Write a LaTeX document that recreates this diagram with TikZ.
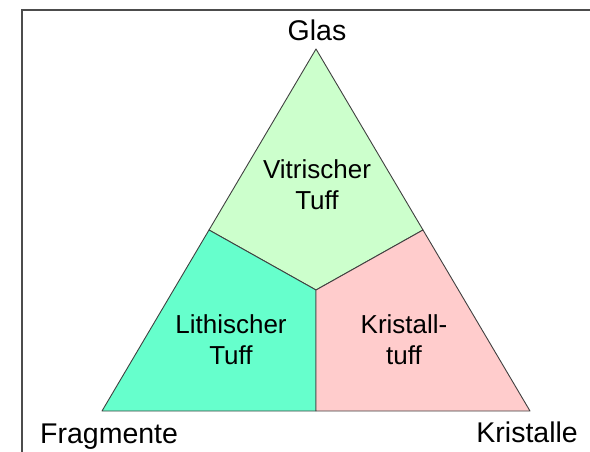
\documentclass[tikz,border=0pt]{standalone}
\usepackage{fontspec}
\setmainfont{Liberation Sans}
\usetikzlibrary{calc}
\begin{document}
\begin{tikzpicture}[x=1pt,y=-1pt,
  region/.style={draw=black!75,line width=0.9pt,line join=round},
  lbl/.style={inner sep=0pt,align=center,anchor=base,font=\fontsize{26}{31}\selectfont},
  corner/.style={inner sep=0pt,font=\fontsize{28.5}{34}\selectfont}]
\useasboundingbox (0,0) rectangle (590,452);
% frame
\draw[black!70,line width=1.3pt] (22,452) -- (22,10) -- (590,10);
% corners of the ternary diagram and subdivision points
\coordinate (G) at (316,49);
\coordinate (F) at (102,411);
\coordinate (K) at (530,411);
\coordinate (C) at (316,290);
\coordinate (GF) at ($(G)!0.5!(F)$);
\coordinate (GK) at ($(G)!0.5!(K)$);
\coordinate (FK) at ($(F)!0.5!(K)$);
% fields
\filldraw[region,fill={rgb,255:red,204;green,255;blue,204}] (G) -- (GK) -- (C) -- (GF) -- cycle;
\filldraw[region,fill={rgb,255:red,102;green,255;blue,204}] (GF) -- (C) -- (FK) -- (F) -- cycle;
\filldraw[region,fill={rgb,255:red,255;green,204;blue,204}] (GK) -- (K) -- (FK) -- (C) -- cycle;
% field labels (anchored at the baseline of the last line)
\node[lbl] (vt) at (317,209) {Vitrischer\\Tuff};
\node[lbl] (lt) at (231,364) {Lithischer\\Tuff};
\node[lbl] (kt) at (404,364) {Kristall-\\tuff};
% corner labels
\node[corner,anchor=base] (gl) at (317,41) {Glas};
\node[corner,anchor=base west] (fr) at (40,443) {Fragmente};
\node[corner,anchor=base east] (kr) at (578,442) {Kristalle};
\end{tikzpicture}
\end{document}
